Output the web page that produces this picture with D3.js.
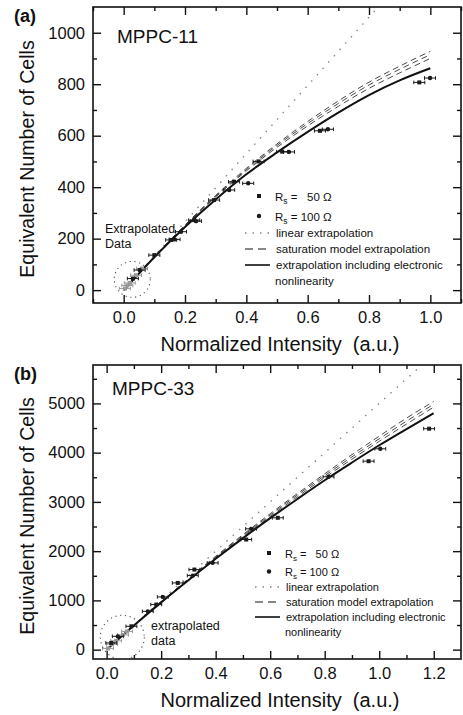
<!DOCTYPE html>
<html>
<head>
<meta charset="utf-8">
<script src="https://cdn.jsdelivr.net/npm/d3@7"></script>
<style>
body { margin: 0; background: #fff; }
text { font-family: "Liberation Sans", Arial, sans-serif; fill: #111; }
</style>
</head>
<body>
<div id="chart"></div>
<script>
// ---- panel (a): MPPC-11 ----
var a_curveX = [0, 0.1, 0.2, 0.3, 0.4, 0.5, 0.6, 0.7, 0.8, 0.9, 1.0];
var a_solid  = [0, 128, 245, 352, 450, 535, 615, 690, 758, 815, 862];
var a_dash1  = [0, 130, 253, 368, 473, 568, 655, 735, 808, 870, 928];
var a_dash2  = [0, 130, 252, 365, 468, 562, 647, 725, 797, 858, 915];
var a_dash3  = [0, 129, 250, 362, 463, 555, 638, 714, 784, 844, 900];
var a_linearX = [0, 0.83];
var a_linearY = [0, 1100];
var a_rs50  = [[0.03, 45], [0.10, 136], [0.155, 195], [0.23, 272], [0.295, 350], [0.36, 421],
               [0.44, 500], [0.517, 538], [0.64, 619], [0.964, 807]];
var a_rs100 = [[0.052, 78], [0.166, 197], [0.187, 227], [0.236, 268], [0.344, 389], [0.406, 415],
               [0.539, 537], [0.666, 625], [0.999, 824]];
var a_extrap = [[0.004, 6], [0.012, 18], [0.02, 28], [0.04, 58], [0.06, 84]];
var a_xErr = 0.018;
var a_xTicks = [0, 0.2, 0.4, 0.6, 0.8, 1.0];
var a_xMinor = [-0.1, 0.1, 0.3, 0.5, 0.7, 0.9, 1.1];
var a_yTicks = [0, 200, 400, 600, 800, 1000];
var a_yMinor = [100, 300, 500, 700, 900];

// ---- panel (b): MPPC-33 ----
var b_curveX = [0, 0.1, 0.2, 0.3, 0.4, 0.5, 0.6, 0.7, 0.8, 0.9, 1.0, 1.1, 1.2];
var b_solid  = [0, 490, 960, 1410, 1845, 2265, 2670, 3060, 3440, 3800, 4150, 4480, 4800];
var b_dash1  = [0, 493, 973, 1440, 1895, 2335, 2760, 3170, 3570, 3960, 4335, 4700, 5040];
var b_dash2  = [0, 492, 970, 1432, 1880, 2314, 2733, 3140, 3533, 3914, 4282, 4639, 4983];
var b_dash3  = [0, 490, 965, 1420, 1862, 2290, 2705, 3105, 3495, 3868, 4230, 4580, 4925];
var b_linearX = [0, 1.15];
var b_linearY = [0, 5750];
var b_rs50  = [[0.017, 136], [0.091, 474], [0.182, 915], [0.261, 1355], [0.322, 1626], [0.512, 2236],
               [0.628, 2677], [0.961, 3827], [1.183, 4486]];
var b_rs100 = [[0.041, 270], [0.151, 778], [0.206, 1071], [0.316, 1504], [0.389, 1762], [0.53, 2453],
               [0.814, 3510], [1.004, 4079]];
var b_extrap = [[0.005, 25], [0.02, 110], [0.035, 180], [0.06, 300], [0.075, 370]];
var b_xErr = 0.02;
var b_xTicks = [0, 0.2, 0.4, 0.6, 0.8, 1.0, 1.2];
var b_xMinor = [0.1, 0.3, 0.5, 0.7, 0.9, 1.1];
var b_yTicks = [0, 1000, 2000, 3000, 4000, 5000];
var b_yMinor = [500, 1500, 2500, 3500, 4500, 5500];

var svg = d3.select("#chart").append("svg")
    .attr("width", 463)
    .attr("height", 715);

function drawPanel(p) {
    var x = d3.scaleLinear().domain(p.xDomain).range([p.left, p.right]);
    var y = d3.scaleLinear().domain(p.yDomain).range([p.bottom, p.top]);
    var g = svg.append("g");

    g.append("clipPath").attr("id", "clip" + p.id)
        .append("rect")
        .attr("x", p.left).attr("y", p.top)
        .attr("width", p.right - p.left).attr("height", p.bottom - p.top);

    // ticks, inward on all four sides
    function ticks(axis, tr, vals, size, fmt) {
        var a = g.append("g").attr("transform", tr)
            .call(axis.tickValues(vals).tickSize(-size).tickSizeOuter(0).tickPadding(p.pad).tickFormat(fmt));
        a.select(".domain").remove();
        a.selectAll("line").attr("stroke", "#111").attr("stroke-width", 1.4);
        a.selectAll("text").attr("font-size", 16.5).attr("fill", "#111")
            .style("font-family", "'Liberation Sans', Arial, sans-serif");
        return a;
    }
    var none = function() { return ""; };
    ticks(d3.axisBottom(x), "translate(0," + p.bottom + ")", p.xTicks, 8, d3.format(".1f"));
    ticks(d3.axisBottom(x), "translate(0," + p.bottom + ")", p.xMinor, 4, none);
    ticks(d3.axisTop(x), "translate(0," + p.top + ")", p.xTicks, 8, none);
    ticks(d3.axisTop(x), "translate(0," + p.top + ")", p.xMinor, 4, none);
    ticks(d3.axisLeft(y), "translate(" + p.left + ",0)", p.yTicks, 8, d3.format("d"));
    ticks(d3.axisLeft(y), "translate(" + p.left + ",0)", p.yMinor, 4, none);
    ticks(d3.axisRight(y), "translate(" + p.right + ",0)", p.yTicks, 8, none);
    ticks(d3.axisRight(y), "translate(" + p.right + ",0)", p.yMinor, 4, none);

    g.append("rect")
        .attr("x", p.left).attr("y", p.top)
        .attr("width", p.right - p.left).attr("height", p.bottom - p.top)
        .attr("fill", "none").attr("stroke", "#111").attr("stroke-width", 1.6);

    var plot = g.append("g").attr("clip-path", "url(#clip" + p.id + ")");

    // linear extrapolation
    plot.append("path")
        .datum(p.linY)
        .attr("d", d3.line().x(function(d, i) { return x(p.linX[i]); }).y(function(d) { return y(d); }))
        .attr("fill", "none").attr("stroke", "#888").attr("stroke-width", 1.4)
        .attr("stroke-dasharray", "1.5,7");

    var curve = d3.line()
        .x(function(d, i) { return x(p.curveX[i]); })
        .y(function(d) { return y(d); })
        .curve(d3.curveMonotoneX);

    // saturation model extrapolation
    [p.dash1, p.dash2, p.dash3].forEach(function(s) {
        plot.append("path").datum(s).attr("d", curve)
            .attr("fill", "none").attr("stroke", "#333").attr("stroke-width", 0.9)
            .attr("stroke-dasharray", "6,4");
    });

    // including electronic nonlinearity
    plot.append("path").datum(p.solid).attr("d", curve)
        .attr("fill", "none").attr("stroke", "#111").attr("stroke-width", 2);

    // data with horizontal error bars
    function points(data, col, shape) {
        var pt = plot.append("g").selectAll("g").data(data).enter().append("g")
            .attr("transform", function(d) { return "translate(" + x(d[0]) + "," + y(d[1]) + ")"; });
        pt.append("line")
            .attr("x1", function(d) { return x(d[0] - p.xErr) - x(d[0]); })
            .attr("x2", function(d) { return x(d[0] + p.xErr) - x(d[0]); })
            .attr("stroke", col).attr("stroke-width", 1);
        pt.append("path")
            .attr("d", function(d) {
                var l = x(d[0] - p.xErr) - x(d[0]), r = x(d[0] + p.xErr) - x(d[0]);
                return "M" + l + ",-1.8V1.8M" + r + ",-1.8V1.8";
            })
            .attr("stroke", col).attr("stroke-width", 1);
        if (shape == "square") {
            pt.append("rect").attr("x", -2).attr("y", -2).attr("width", 4).attr("height", 4).attr("fill", col);
        } else {
            pt.append("circle").attr("r", 2.2).attr("fill", col);
        }
    }
    points(p.extrap, "#999", "square");
    points(p.rs50, "#1a1a1a", "square");
    points(p.rs100, "#1a1a1a", "circle");

    // dotted circle around extrapolated data
    g.append("circle")
        .attr("cx", x(p.circle[0])).attr("cy", y(p.circle[1])).attr("r", p.circleR)
        .attr("fill", "none").attr("stroke", "#555").attr("stroke-width", 1.1)
        .attr("stroke-dasharray", "1.2,3.6");

    g.append("text").attr("x", p.noteX).attr("y", p.noteY).attr("font-size", 12.5)
        .text(p.note[0]);
    g.append("text").attr("x", p.noteX).attr("y", p.noteY + 15).attr("font-size", 12.5)
        .text(p.note[1]);

    // panel tag and device name
    g.append("text").attr("x", 14).attr("y", p.top + 15).attr("font-size", 18)
        .attr("font-weight", "bold").text(p.tag);
    g.append("text").attr("x", p.nameX).attr("y", p.nameY).attr("font-size", 19).text(p.name);

    // axis titles
    g.append("text").attr("x", (p.left + p.right) / 2 + 3).attr("y", p.bottom + 48)
        .attr("text-anchor", "middle").attr("font-size", 20)
        .style("white-space", "pre")
        .text("Normalized Intensity  (a.u.)");
    g.append("text")
        .attr("transform", "translate(34," + ((p.top + p.bottom) / 2 + 4) + ") rotate(-90)")
        .attr("text-anchor", "middle").attr("font-size", 19.6)
        .text("Equivalent Number of Cells");

    // legend
    var L = p.legend, fs = p.legendFont;
    var lg = g.append("g").attr("transform", "translate(" + L.x + "," + L.y + ")");
    lg.append("rect").attr("x", -2).attr("y", -2).attr("width", 4).attr("height", 4).attr("fill", "#1a1a1a");
    lg.append("circle").attr("cy", L.step).attr("r", 2.2).attr("fill", "#1a1a1a");
    [["R", "s", " =   50 \u03a9"], ["R", "s", " = 100 \u03a9"]].forEach(function(t, i) {
        var tx = lg.append("text").attr("x", 16).attr("y", i * L.step + 4.5).attr("font-size", fs)
            .style("white-space", "pre");
        tx.append("tspan").text(t[0]);
        tx.append("tspan").attr("dy", 3).attr("font-size", fs - 3).text(t[1]);
        tx.append("tspan").attr("dy", -3).text(t[2]);
    });
    var styles = [["#888", "1.5,6", 1.4], ["#111", "8,5", 1.2], ["#111", null, 1.6]];
    var labels = ["linear extrapolation", "saturation model extrapolation", "extrapolation including electronic"];
    styles.forEach(function(s, i) {
        var yy = 2 * L.step + i * L.step2 - 3;
        lg.append("line").attr("x1", -14).attr("x2", 11).attr("y1", yy).attr("y2", yy)
            .attr("stroke", s[0]).attr("stroke-width", s[2]).attr("stroke-dasharray", s[1]);
        lg.append("text").attr("x", 17).attr("y", yy + 4).attr("font-size", fs).text(labels[i]);
    });
    lg.append("text").attr("x", 16).attr("y", 2 * L.step + 3 * L.step2 + 1).attr("font-size", fs).text("nonlinearity");
}

drawPanel({
    id: "a", tag: "(a)", name: "MPPC-11", nameX: 117, nameY: 43,
    left: 93, right: 461, top: 7, bottom: 303, pad: 8,
    xDomain: [-0.1, 1.1], yDomain: [-50, 1100],
    xTicks: a_xTicks, xMinor: a_xMinor, yTicks: a_yTicks, yMinor: a_yMinor,
    curveX: a_curveX, solid: a_solid, dash1: a_dash1, dash2: a_dash2, dash3: a_dash3,
    linX: a_linearX, linY: a_linearY,
    rs50: a_rs50, rs100: a_rs100, extrap: a_extrap, xErr: a_xErr,
    circle: [0.028, 42], circleR: 18,
    note: ["Extrapolated", "Data"], noteX: 105, noteY: 233,
    legend: { x: 259, y: 196, step: 20, step2: 16 }, legendFont: 11.5
});

drawPanel({
    id: "b", tag: "(b)", name: "MPPC-33", nameX: 112, nameY: 395,
    left: 93, right: 461, top: 365, bottom: 659, pad: 8,
    xDomain: [-0.05, 1.3], yDomain: [-190, 5780],
    xTicks: b_xTicks, xMinor: b_xMinor, yTicks: b_yTicks, yMinor: b_yMinor,
    curveX: b_curveX, solid: b_solid, dash1: b_dash1, dash2: b_dash2, dash3: b_dash3,
    linX: b_linearX, linY: b_linearY,
    rs50: b_rs50, rs100: b_rs100, extrap: b_extrap, xErr: b_xErr,
    circle: [0.0575, 251], circleR: 22,
    note: ["extrapolated", "data"], noteX: 151, noteY: 630,
    legend: { x: 269, y: 553, step: 18.5, step2: 15 }, legendFont: 11
});
</script>
</body>
</html>
